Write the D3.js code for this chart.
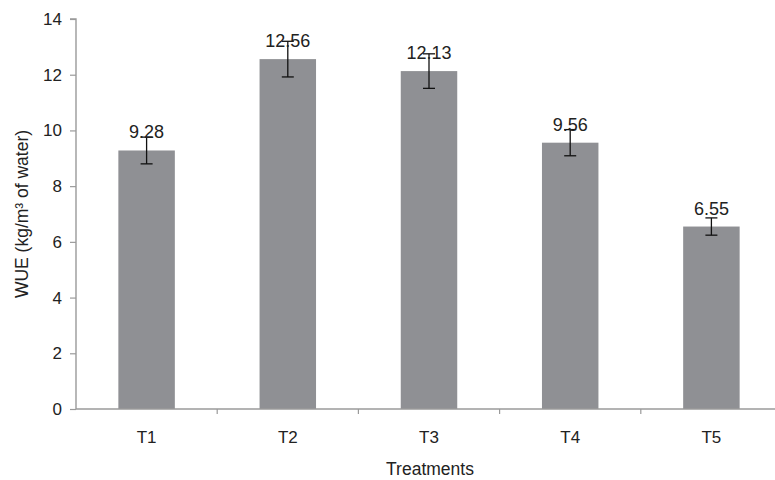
<!DOCTYPE html>
<html>
<head>
<meta charset="utf-8">
<script src="https://cdn.jsdelivr.net/npm/d3@7/dist/d3.min.js"></script>
<style>
  html, body { margin: 0; padding: 0; background: #fff; }
  svg { display: block; font-family: "Liberation Sans", Arial, sans-serif; }
</style>
</head>
<body>
<svg id="chart" width="775" height="480"></svg>
<script>
// Water use efficiency per treatment, with error bar half-widths
const categories = ["T1", "T2", "T3", "T4", "T5"];
const wue = [9.28, 12.56, 12.13, 9.56, 6.55];
const errors = [0.48, 0.64, 0.62, 0.47, 0.31];
const yTicks = [0, 2, 4, 6, 8, 10, 12, 14];

const svg = d3.select("#chart");
const plotLeft = 76, plotRight = 782, plotTop = 19, plotBottom = 409;

const x = d3.scaleBand()
  .domain(categories)
  .range([plotLeft, plotRight])
  .paddingInner(0.6)
  .paddingOuter(0.3);

const y = d3.scaleLinear().domain([0, 14]).range([plotBottom, plotTop]);

const axisColor = "#9a9a9a";
const textColor = "#222";

// Bars
svg.append("g")
  .selectAll("rect")
  .data(categories)
  .join("rect")
  .attr("x", d => x(d))
  .attr("y", (d, i) => y(wue[i]))
  .attr("width", x.bandwidth())
  .attr("height", (d, i) => y(0) - y(wue[i]))
  .attr("fill", "#8f9094");

// Y axis
const yAxis = svg.append("g")
  .attr("transform", `translate(${plotLeft},0)`)
  .call(d3.axisLeft(y).tickValues(yTicks).tickSize(6).tickPadding(8));
yAxis.select(".domain").attr("stroke", axisColor).attr("stroke-width", 1.4)
  .attr("d", `M-6,${y(14)}H0V${y(0)}`);
yAxis.selectAll(".tick line").attr("stroke", axisColor).attr("stroke-width", 1.2);
yAxis.selectAll(".tick text")
  .attr("fill", textColor)
  .style("font-size", "17px");

// X axis: baseline with ticks between categories
const step = x.step();
const xg = svg.append("g");
xg.append("line")
  .attr("x1", plotLeft).attr("x2", plotRight)
  .attr("y1", y(0)).attr("y2", y(0))
  .attr("stroke", axisColor).attr("stroke-width", 1.4);
xg.selectAll("line.sep")
  .data(categories.slice(0, -1))
  .join("line")
  .attr("class", "sep")
  .attr("x1", d => x(d) + x.bandwidth() + step * x.paddingInner() / 2)
  .attr("x2", d => x(d) + x.bandwidth() + step * x.paddingInner() / 2)
  .attr("y1", y(0)).attr("y2", y(0) + 5)
  .attr("stroke", axisColor).attr("stroke-width", 1.2);
xg.selectAll("text")
  .data(categories)
  .join("text")
  .attr("x", d => x(d) + x.bandwidth() / 2)
  .attr("y", 443)
  .attr("text-anchor", "middle")
  .attr("fill", textColor)
  .style("font-size", "17px")
  .text(d => d);

// Error bars
const capHalf = 6;
const eb = svg.append("g").attr("stroke", "#111").attr("stroke-width", 1.3);
categories.forEach((c, i) => {
  const cx = x(c) + x.bandwidth() / 2;
  const hi = y(wue[i] + errors[i]);
  const lo = y(wue[i] - errors[i]);
  eb.append("line").attr("x1", cx).attr("x2", cx).attr("y1", hi).attr("y2", lo);
  eb.append("line").attr("x1", cx - capHalf).attr("x2", cx + capHalf).attr("y1", hi).attr("y2", hi);
  eb.append("line").attr("x1", cx - capHalf).attr("x2", cx + capHalf).attr("y1", lo).attr("y2", lo);
});

// Value labels
svg.append("g")
  .selectAll("text")
  .data(categories)
  .join("text")
  .attr("x", d => x(d) + x.bandwidth() / 2)
  .attr("y", (d, i) => y(wue[i]) - 12)
  .attr("text-anchor", "middle")
  .attr("fill", textColor)
  .style("font-size", "18px")
  .text((d, i) => wue[i].toFixed(2));

// Axis titles
svg.append("text")
  .attr("x", 430).attr("y", 475)
  .attr("text-anchor", "middle")
  .attr("fill", textColor)
  .style("font-size", "17.5px")
  .text("Treatments");

svg.append("text")
  .attr("transform", "translate(27.5,214) rotate(-90)")
  .attr("text-anchor", "middle")
  .attr("fill", textColor)
  .style("font-size", "17.5px")
  .text("WUE (kg/m³ of water)");
</script>
</body>
</html>
